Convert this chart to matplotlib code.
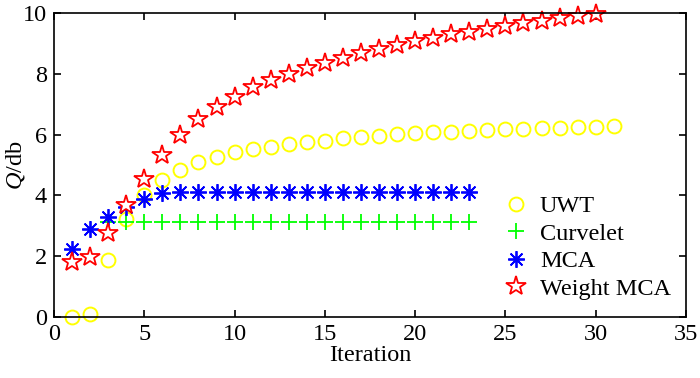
import matplotlib
matplotlib.use('Agg')
import matplotlib.pyplot as plt

plt.rcParams['font.family'] = ['Liberation Serif', 'DejaVu Serif']
plt.rcParams['mathtext.fontset'] = 'custom'
plt.rcParams['mathtext.rm'] = 'Liberation Serif'
plt.rcParams['mathtext.it'] = 'Liberation Serif:italic'

# data
uwt_x = list(range(1, 32))
uwt_y = [0.0, 0.11, 1.89, 3.21, 4.01, 4.50, 4.83, 5.09, 5.27, 5.42, 5.53,
         5.60, 5.68, 5.75, 5.80, 5.88, 5.91, 5.96, 6.01, 6.04, 6.07, 6.10,
         6.13, 6.15, 6.17, 6.19, 6.21, 6.23, 6.24, 6.25, 6.27]

curvelet_x = list(range(3, 24))
curvelet_y = [3.14] * 21

mca_x = list(range(1, 24))
mca_y = [2.23, 2.91, 3.30, 3.62, 3.87, 4.07] + [4.12] * 17

wmca_x = list(range(1, 31))
wmca_y = [1.81, 1.98, 2.75, 3.68, 4.55, 5.33, 5.99, 6.51, 6.92, 7.25,
          7.56, 7.80, 8.00, 8.18, 8.37, 8.53, 8.68, 8.81, 8.95, 9.09,
          9.19, 9.30, 9.39, 9.48, 9.58, 9.67, 9.74, 9.83, 9.90, 9.97]

fig = plt.figure(figsize=(7, 3.78), dpi=100)
ax = fig.add_axes([54 / 700, 1 - 317 / 378, 632 / 700, 304 / 378])

ax.plot(uwt_x, uwt_y, 'o', mfc='none', mec='#ffff00', ms=10, mew=1.4,
        label='UWT', clip_on=False)
ax.plot(curvelet_x, curvelet_y, '+', color='#00ff00', ms=12, mew=1.3,
        label='Curvelet', clip_on=False)
# 8-armed asterisk like the original
ax.plot(mca_x, mca_y, marker=(8, 2, 0), ls='none', color='#0000ff',
        ms=12, mew=1.3, label='MCA', clip_on=False)
ax.plot(wmca_x, wmca_y, '*', mfc='white', mec='#ff0000', ms=15, mew=1.3,
        label='Weight MCA', clip_on=False)

ax.set_xlim(0, 35)
ax.set_ylim(0, 10)
ax.set_xticks(range(0, 36, 5))
ax.set_yticks(range(0, 11, 2))
ax.tick_params(direction='in', top=True, right=True, labelsize=17.5,
               length=5, width=1.2, pad=5)
for s in ax.spines.values():
    s.set_linewidth(1.2)

ax.set_xlabel('Iteration', fontsize=17.5, labelpad=0)
ax.set_ylabel(r'$Q$/db', fontsize=17.5)
ax.yaxis.set_label_coords(-0.043, 0.5)

ax.legend(loc='lower right', bbox_to_anchor=(1.003, 0.0), frameon=False,
          fontsize=17.5, handlelength=1.0, handletextpad=0.5,
          labelspacing=0.23, borderpad=0.2)

fig.savefig('out.png', dpi=100)
